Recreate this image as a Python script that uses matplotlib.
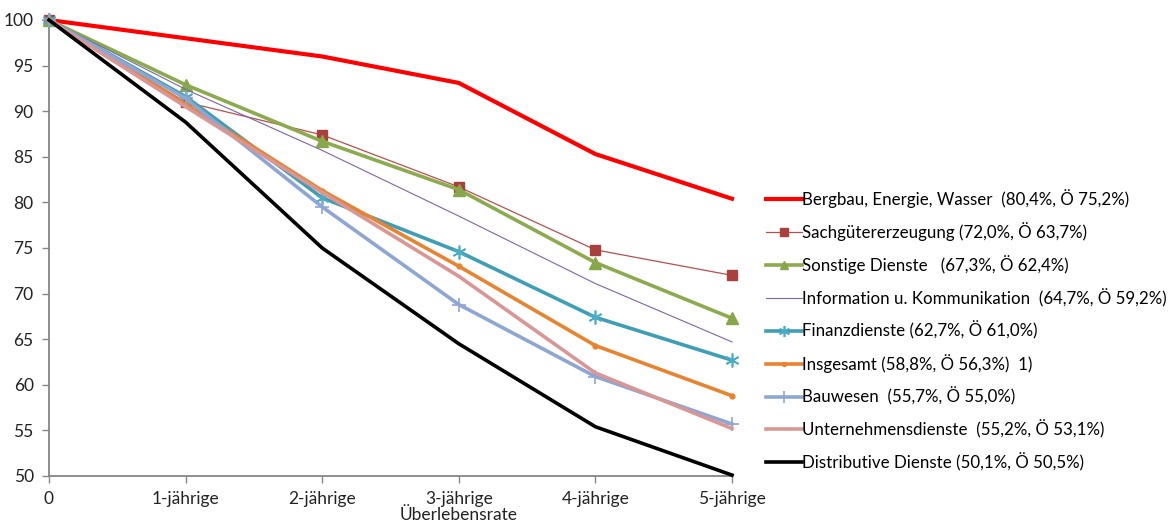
import numpy as np
import matplotlib.pyplot as plt

plt.rcParams['font.family'] = ['Lato', 'DejaVu Sans']

# Überlebensraten je Sektor (Index, Start = 100)
categories = ["0", "1-jährige", "2-jährige", "3-jährige\nÜberlebensrate", "4-jährige", "5-jährige"]

bergbau       = [100, 98.0, 96.0, 93.1, 85.3, 80.4]
sachgueter    = [100, 91.0, 87.4, 81.7, 74.8, 72.0]
sonstige      = [100, 92.9, 86.7, 81.4, 73.4, 67.3]
information   = [100, 92.4, 85.7, 78.5, 71.1, 64.7]
finanz        = [100, 91.6, 80.5, 74.6, 67.4, 62.7]
insgesamt     = [100, 90.8, 81.3, 73.0, 64.3, 58.8]
bauwesen      = [100, 91.4, 79.5, 68.8, 60.9, 55.7]
unternehmens  = [100, 90.5, 81.1, 71.9, 61.3, 55.2]
distributive  = [100, 88.8, 75.0, 64.5, 55.4, 50.1]

labels = [
    "Bergbau, Energie, Wasser  (80,4%, Ö 75,2%)",
    "Sachgütererzeugung (72,0%, Ö 63,7%)",
    "Sonstige Dienste   (67,3%, Ö 62,4%)",
    "Information u. Kommunikation  (64,7%, Ö 59,2%)",
    "Finanzdienste (62,7%, Ö 61,0%)",
    "Insgesamt (58,8%, Ö 56,3%)  1)",
    "Bauwesen  (55,7%, Ö 55,0%)",
    "Unternehmensdienste  (55,2%, Ö 53,1%)",
    "Distributive Dienste (50,1%, Ö 50,5%)",
]

x = np.arange(len(categories))

fig = plt.figure(figsize=(11.7, 5.25), dpi=100)
ax = fig.add_axes([49/1170, 1 - 476/525, (732 - 49)/1170, (476 - 20)/525])

kw = dict(zorder=3, clip_on=False)
ax.plot(x, bergbau, color='#FF0000', lw=3, label=labels[0], **kw)
ax.plot(x, sachgueter, color='#B4504D', lw=0.9, marker='s', ms=7,
        mfc='#A9403D', mec='#A9403D', label=labels[1], **kw)
ax.plot(x, sonstige, color='#8CAB4E', lw=2.6, marker='^', ms=8,
        mfc='#86A84A', mec='#86A84A', label=labels[2], **kw)
ax.plot(x, information, color='#8064A2', lw=0.8, label=labels[3], **kw)
ax.plot(x, finanz, color='#3E9EB6', lw=2.6, marker=(6, 2, 0), ms=10,
        mew=1.2, mec='#4BACC6', label=labels[4], **kw)
ax.plot(x, insgesamt, color='#E8842F', lw=2.6, marker='o', ms=3.5,
        mfc='#E8842F', mec='#E8842F', label=labels[5], **kw)
ax.plot(x, bauwesen, color='#8EA6D3', lw=2.6, marker='+', ms=10,
        mew=1.2, mec='#8EA6D3', label=labels[6], **kw)
ax.plot(x, unternehmens, color='#D99694', lw=2.6, label=labels[7], **kw)
ax.plot(x, distributive, color='#000000', lw=2.6, label=labels[8], **kw)

ax.set_xlim(0, 5)
ax.set_ylim(50, 100)
ax.set_yticks(np.arange(50, 101, 5))
ax.set_xticks(x)
ax.set_xticklabels(categories, linespacing=1.0)

for s in ['top', 'right']:
    ax.spines[s].set_visible(False)
for s in ['left', 'bottom']:
    ax.spines[s].set_color('#868686')
    ax.spines[s].set_linewidth(1.3)
ax.tick_params(axis='both', colors='#868686', labelcolor='#222222',
               labelsize=12.5, length=5, width=1)
ax.tick_params(axis='y', pad=6)
ax.tick_params(axis='x', pad=6)

ax.legend(loc='upper left', bbox_to_anchor=(766/1170, 1 - 189/525),
          bbox_transform=fig.transFigure, frameon=False, fontsize=12.2,
          handlelength=2.1, handletextpad=0.05, labelspacing=0.84,
          borderaxespad=0, borderpad=0, markerscale=0.8)

fig.savefig("out.png", dpi=100)
